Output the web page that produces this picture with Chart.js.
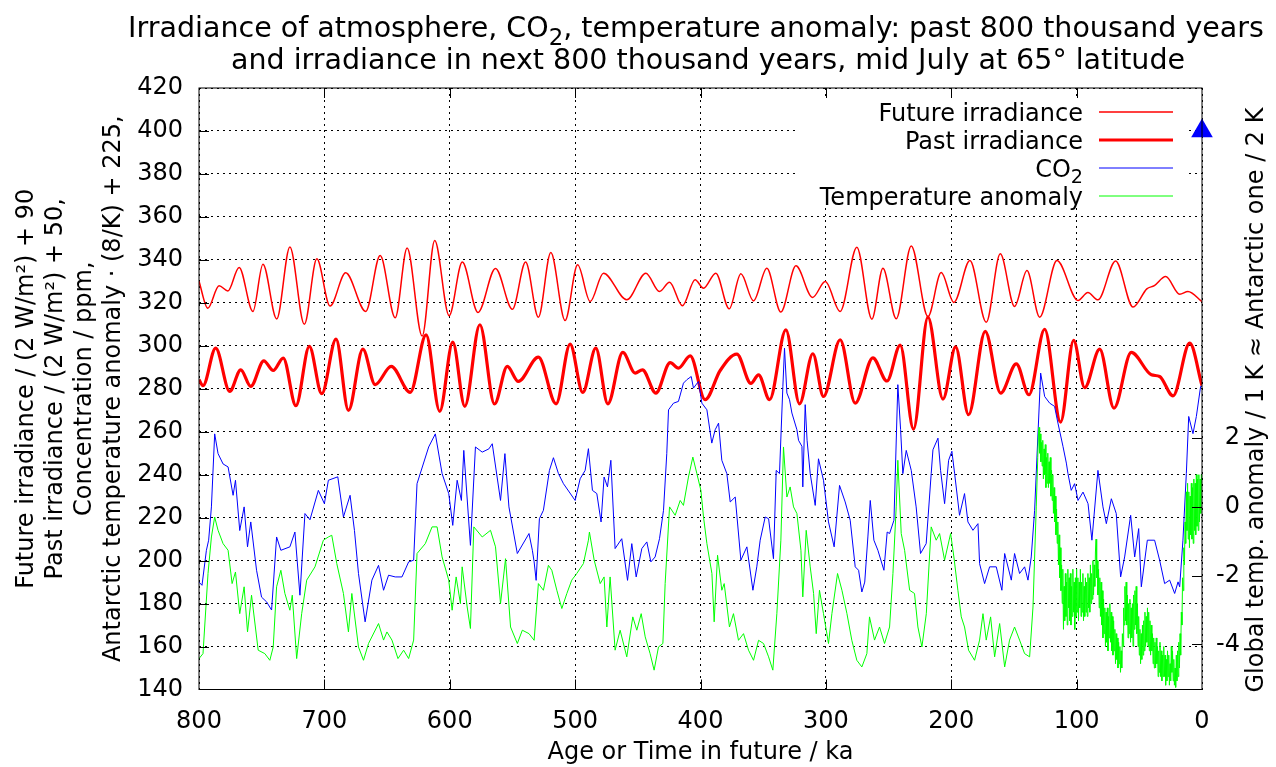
<!DOCTYPE html>
<html>
<head>
<meta charset="utf-8">
<title>Irradiance, CO₂ and temperature anomaly over 800 ka</title>
<script src="https://cdn.jsdelivr.net/npm/chart.js@4/dist/chart.umd.min.js"></script>
<style>
  html, body { margin: 0; padding: 0; background: #fff; }
  #chart { display: block; }
</style>
</head>
<body>
<canvas id="chart" width="1276" height="767"></canvas>
<script>
// x values are ka: age for the past series, time ahead for the future one

// mid July insolation at 65° N, next 800 ka, scaled: W/m² / 2 + 90
const futureAge = [800, 793, 784, 777, 768, 757, 749, 738, 727.5, 716, 706, 695.5, 683, 667, 655.5, 643.5,
  634, 622, 612, 600.5, 590, 577.5, 563.5, 550, 539.5, 529.3, 519.4, 508, 498, 488, 477.4, 458.8,
  443.6, 432.7, 424.7, 414.4, 404.3, 397.6, 387.8, 377.1, 367.8, 357.7, 347.1, 335.9, 323.9, 310.6,
  300.5, 288.6, 275.3, 263.3, 254.5, 243.9, 231.9, 218.6, 208, 197.9, 185.1, 172.1, 160.9, 149.5,
  139.6, 129.5, 115.7, 98.9, 91, 83, 68.9, 55, 44, 38, 29, 17.8, 11.2, 0];
const futureIrr = [330, 317.5, 328, 325.5, 336.5, 316, 338, 312.5, 346, 310, 340.5, 318.5, 334, 316, 342, 313,
  345.5, 304.5, 349, 314, 339, 315.5, 336, 317, 339, 313.3, 343.4, 311.8, 337.7, 320.6, 333.8, 321.4,
  333.8, 325.3, 329.6, 318.6, 330.7, 326.8, 333.8, 317.2, 333.5, 320.9, 336.1, 315.7, 337.2, 322.5,
  329.9, 316, 345.9, 312.4, 336.1, 312.6, 346.5, 313.6, 334.1, 320.2, 339.7, 310.9, 342.8, 318.3,
  335, 313.3, 339.7, 321.1, 324.8, 321.4, 339.5, 318, 326.5, 328, 332.2, 324, 325.3, 320.5];

// same, past 800 ka, scaled: W/m² / 2 + 50
const pastAge = [800, 796.8, 786.7, 775.5, 766.7, 758.7, 748.3, 740.8, 732.8, 722.7, 712, 702.1, 690.7, 680.8,
  669.3, 659.5, 646.7, 631.5, 618.9, 608, 597.6, 588, 576, 564.3, 554.1, 545.3, 529.3, 515.2, 504,
  493.9, 483.5, 473.9, 462, 452.1, 446.3, 435.6, 424.2, 417.6, 408.2, 396.3, 384.3, 371, 359.8,
  353.7, 344.9, 331.9, 321, 310.4, 301.9, 288.6, 276.6, 262.5, 251.3, 240.7, 230.1, 218.6, 206.6,
  196.5, 186.2, 172.9, 160.6, 148.1, 138, 125.5, 112.8, 102.4, 93.6, 81.6, 70.2, 56.4, 40.4, 33.8,
  23.1, 9.8, 0];
const pastIrr = [284.2, 281.4, 298.9, 278.8, 288.8, 281.1, 293, 288.5, 294.3, 272.1, 299.7, 277.7, 303.1, 269.9,
  298.4, 281.9, 290.4, 278.3, 305.1, 269.5, 301.7, 271.8, 309.8, 272.9, 290.4, 283.4, 294.7, 273, 300.8,
  278.3, 298.9, 273, 296.9, 287.3, 288.8, 278, 292.2, 289.6, 295.3, 274.9, 288.5, 296.1, 282.5,
  286.5, 274.9, 307.4, 273, 296.3, 276.4, 302.8, 273.3, 294.4, 283.6, 300.3, 261.2, 313.3, 275.2,
  299.5, 267.9, 306.7, 278, 291.6, 277.2, 307.7, 264.5, 302.5, 280.5, 298.4, 271, 296.9, 286.5, 285.7,
  276.7, 301.2, 281.5];

// CO2, ppm
const co2Age = [800, 797.6, 794.1, 792.3, 790.1, 787.5, 784.8, 780.8, 776.8, 772.8, 770.9, 767.5, 764, 761.3,
  758.7, 754.1, 750.1, 746.1, 742.1, 738.1, 734.7, 727.5, 723.5, 719.5, 715.5, 711.5, 704.8, 700,
  696.8, 689.3, 684.8, 679.5, 676, 672.8, 667.5, 662.1, 656.8, 652.8, 648.8, 643.5, 638.1, 632.8,
  628.8, 626.1, 616.8, 611.5, 606.1, 600.8, 597.6, 594.1, 590.7, 588.8, 583.5, 579.5, 574.1, 568.8,
  566.1, 559.5, 556, 552.8, 546.1, 536.8, 534.1, 532.7, 531.1, 528.5, 525.3, 520.5, 517.3, 513.3,
  509.3, 500, 496, 492, 489.4, 486.2, 482.7, 479.3, 476.9, 474.2, 471.5, 468.1, 462.8, 458.2, 454.8,
  451.3, 446.8, 442.8, 439.6, 436.2, 432.7, 429.5, 426.9, 425.5, 421.5, 417.6, 413.6, 410.9, 407.4,
  405.6, 401.6, 398.9, 394.9, 391, 388.3, 385.6, 383, 379, 376.3, 372.3, 367.8, 363, 358.2, 355.1,
  352.4, 348.4, 345.7, 341.8, 339.6, 337, 334.3, 333, 331.1, 329, 327.1, 323.1, 321.8, 319.1, 318.4,
  316.5, 315, 312.5, 308.5, 305.9, 301.9, 297.9, 293.4, 289.1, 284.6, 280.6, 276.6, 273.9, 271.3,
  269, 266.5, 264.6, 261.7, 258.5, 253.7, 251.1, 249.2, 245.7, 242.6, 240.4, 238.6, 235.9, 231.9,
  228, 224.5, 220, 216, 214.6, 210.6, 208.5, 205.3, 202.1, 199.5, 197.3, 193.4, 189.4, 186.7, 182.7,
  178.7, 177.4, 173.4, 169.4, 164.1, 159.6, 157.4, 152.1, 149.5, 145.5, 141.5, 138.8, 136.2, 133.5,
  128.7, 125.5, 121.5, 117.6, 114.9, 110.9, 108.2, 106.9, 104.3, 101.6, 98.9, 94.9, 90.9, 87.8, 83,
  79, 76.3, 72.3, 68.4, 64.9, 61.7, 56.9, 53.7, 50.5, 48.4, 43.6, 37.8, 33.8, 29.8, 25.8, 21.8,
  19.1, 17.8, 15.2, 12.5, 10.6, 7.2, 4.5, 1.1, 0];
const co2 = [190, 188.5, 204.8, 209.5, 225, 259, 249.8, 245, 243.6, 230.4, 237.4, 214, 225, 206.4,
  218, 195.5, 183, 180.8, 177, 211, 204.8, 206.4, 213.3, 183.9, 221.9, 219, 232.7, 226.5,
  237.4, 239, 220.3, 230.4, 214, 194, 171.5, 190.9, 197.8, 186.2, 193.2, 192.4, 192.4, 199.4,
  200.2, 235.8, 252.9, 259, 240.5, 231.2, 216.4, 237.4, 228, 251.3, 207.1, 252.9, 250.5, 252,
  254.4, 228, 249.8, 225, 203.3, 212.6, 204.8, 199.4, 190.8, 219.5, 223.4, 242, 247.9, 240.5,
  235.8, 228, 238.1, 242, 252.1, 232.7, 231.2, 218, 238.9, 234.3, 246.7, 205.6, 210.2, 190.8, 207.9,
  192.4, 205.6, 208.7, 199.4, 201.7, 210.2, 223.4, 249.8, 270.2, 273.3, 274.1, 282.6, 284.2, 285.7,
  280.3, 283.4, 273.3, 270.2, 254.7, 260.9, 264, 246.7, 240.5, 227.3, 229.6, 200.2, 206.4, 186.2, 197.1,
  209.5, 220.3, 219.5, 200.9, 242, 240.5, 281, 298.9, 278, 274.9, 268.7, 260.9, 256, 253.2, 234.3,
  272.6, 256, 240.5, 225.7, 247.4, 237.4, 218, 206.4, 235, 227.3, 218.8, 197.1, 195.5, 185.4,
  190, 211, 228, 209.5, 204.8, 195.5, 213.3, 212.6, 218.8, 281.9, 261, 240.5, 251.3, 242,
  225, 203.3, 207.9, 240.5, 251.6, 257, 242, 226.5, 246.7, 250.9, 240.5, 221.1, 231.2, 218, 214.1,
  217.2, 198.6, 189.3, 197.1, 197.1, 186.2, 203.3, 190.9, 203.3, 194, 197.1, 190.9, 201.7, 223.4,
  287.3, 276.4, 273.3, 271.8, 264, 253.2, 245.4, 240.5, 232.7, 235.8, 228, 231.9, 226.5, 209.5, 242,
  225, 217.2, 228.8, 221.9, 192.4, 201.7, 221.1, 201.7, 214.9, 187.8, 209.5, 209.5, 200.2, 189.3, 190.9, 184.7,
  190.1, 187.8, 209.5, 240.5, 267.1, 259.1, 267.1, 281.1, 281];

// Antarctic temperature anomaly, scaled: K * 8 + 225
const tempAge = [800, 796.8, 792.8, 790.1, 787.5, 784.8, 780.8, 776.8, 773.6, 770.9, 767.5, 764, 761.3, 758.1,
  752.8, 747.5, 743.5, 740.8, 738.1, 734.7, 731.5, 727.5, 725.6, 722.1, 718.1, 714.1, 707.5, 700.8,
  696.8, 694.1, 690.1, 684.8, 680.8, 678.1, 672.8, 668.8, 664.8, 656.8, 652.8, 650.1, 646.1, 641.3,
  636.8, 632.8, 628.8, 626.1, 619.5, 614.1, 610.1, 606.1, 600.8, 598.1, 594.9, 591.5, 590.1, 586.1,
  583.5, 580.8, 574.1, 567.5, 563.5, 559.5, 555.5, 551.5, 546.1, 542.1, 536.8, 532.7, 529.3, 525.3,
  521.3, 518.6, 514.6, 510.6, 506.6, 502.7, 498.7, 493.4, 489.4, 488.6, 484.8, 480, 476.9, 474.7,
  472.1, 468.1, 464.1, 458.8, 454, 450.8, 447.3, 444.1, 440.2, 437, 433.5, 430, 428.2, 424.7, 420.2,
  416.2, 413.6, 409.6, 406.1, 402.9, 399.7, 397.6, 394.9, 390.9, 389.1, 386.4, 383, 381.1, 376.9,
  373.7, 369.7, 365.7, 361.7, 357.7, 353.7, 349.7, 345.7, 342.3, 339.1, 335.9, 333.8, 331.1, 328.5,
  325.8, 323.1, 319.9, 318.4, 315.7, 312.5, 309.8, 307.7, 305.1, 301.9, 297.9, 295.2, 290.7, 287.2,
  283.2, 279.3, 275.3, 271.3, 267.3, 265.2, 261.2, 257.2, 253.2, 249.2, 246.5, 243.9, 242.6, 239.9,
  237.2, 233.2, 229.3, 226.6, 223.4, 219.9, 216, 212, 209.3, 205.3, 200.5, 197.9, 194.7, 192, 189.4,
  186.2, 181.4, 177.4, 174.7, 172.1, 168.6, 165.4, 161.4, 157.4, 153.5, 149.5, 145.5, 141.5, 137.5,
  134.8, 132.2,
  131, 130.5, 130, 129.5, 129, 128.5, 128, 127.5, 127, 126.5,
  126, 125.5, 125, 124.5, 124, 123.5, 123, 122.5, 122, 121.5,
  121, 120.5, 120, 119.5, 119, 118.5, 118, 117.5, 117, 116.5,
  116, 115.5, 115, 114.5, 114, 113.5, 113, 112.5, 112, 111.5,
  111, 110.5, 110, 109.5, 109, 108.5, 108, 107.5, 107, 106.5,
  106, 105.5, 105, 104.5, 104, 103.5, 103, 102.5, 102, 101.5,
  101, 100.5, 100, 99.5, 99, 98.5, 98, 97.5, 97, 96.5,
  96, 95.5, 95, 94.5, 94, 93.5, 93, 92.5, 92, 91.5,
  91, 90.5, 90, 89.5, 89, 88.5, 88, 87.5, 87, 86.5,
  86, 85.5, 85, 84.5, 84, 83.5, 83, 82.5, 82, 81.5,
  81, 80.5, 80, 79.5, 79, 78.5, 78, 77.5, 77, 76.5,
  76, 75.5, 75, 74.5, 74, 73.5, 73, 72.5, 72, 71.5,
  71, 70.5, 70, 69.5, 69, 68.5, 68, 67.5, 67, 66.5,
  66, 65.5, 65, 64.5, 64, 63.5, 63, 62.5, 62, 61.5,
  61, 60.5, 60, 59.5, 59, 58.5, 58, 57.5, 57, 56.5,
  56, 55.5, 55, 54.5, 54, 53.5, 53, 52.5, 52, 51.5,
  51, 50.5, 50, 49.5, 49, 48.5, 48, 47.5, 47, 46.5,
  46, 45.5, 45, 44.5, 44, 43.5, 43, 42.5, 42, 41.5,
  41, 40.5, 40, 39.5, 39, 38.5, 38, 37.5, 37, 36.5,
  36, 35.5, 35, 34.5, 34, 33.5, 33, 32.5, 32, 31.5,
  31, 30.5, 30, 29.5, 29, 28.5, 28, 27.5, 27, 26.5,
  26, 25.5, 25, 24.5, 24, 23.5, 23, 22.5, 22, 21.5,
  21, 20.5, 20, 19.5, 19, 18.5, 18, 17.5, 17, 16.5,
  16, 15.5, 15, 14.5, 14, 13.5, 13, 12.5, 12, 11.5,
  11, 10.5, 10, 9.5, 9, 8.5, 8, 7.5, 7, 6.5,
  6, 5.5, 5, 4.5, 4, 3.5, 3, 2.5, 2, 1.5,
  1, 0.5, 0];
const temp = [154.4, 156.7, 194, 211, 220.3, 214.1, 207.9, 204.8, 189.3, 194.7, 175.3, 187.8, 166.8, 183.9,
  158.3, 156.7, 153.6, 159.8, 187.8, 195.5, 184.7, 176.9, 183.9, 154.4, 175.3, 190.9, 197.1, 209.5,
  211, 211.8, 198.6, 184.7, 166.8, 184.7, 159.8, 153.6, 161.4, 170.7, 163, 166.8, 163, 154.4,
  158.3, 154.4, 163, 203.3, 207.9, 215.7, 215.7, 201.7, 190.9, 176.9, 192.4, 180, 197.1, 178.4,
  168.4, 215.7, 211, 214.1, 206.4, 180, 200.9, 169.1, 161.4, 167.6, 166, 162.9, 189.3, 186.2,
  197.8, 195.5, 186.2, 177.7, 184.7, 190.9, 194, 198.6, 209.5, 213.3, 200.2, 189.3, 192.4, 169.1,
  192.4, 158.3, 167.6, 155.2, 173.8, 167.6, 175.3, 164.5, 156.7, 149, 159.8, 161.4, 189.3, 225, 221.1,
  228, 225.7, 238.9, 248.2, 240.5, 232.7, 220.3, 207.9, 194, 171.5, 202.5, 186.2, 189.3, 169.1,
  175.3, 162.9, 166, 158.3, 153.6, 162.9, 161.4, 155.2, 149, 175.3, 209.5, 252.9, 229.6, 234.3,
  225, 221.9, 204.8, 183.1, 214.1, 197.1, 184.7, 166, 186.2, 175.3, 161.4, 175.3, 194, 186.2,
  175.3, 162.9, 153.6, 150.5, 156.7, 173.8, 163, 169.1, 161.4, 169.1, 194, 225, 246.7, 212.6,
  204.8, 186.2, 184.7, 169.1, 159.8, 175.3, 215.7, 209.5, 212.6, 200.2, 212.6, 201.7, 186.2, 173.8, 169.1,
  158.3, 153.6, 163, 175.3, 163, 173.8, 155.2, 170.7, 150.5, 163, 169.1, 163, 156.7, 155.2,
  178.4, 225,
  248, 258, 262, 250, 259, 246, 255, 244, 256, 238,
  252, 240, 254, 234, 248, 236, 250, 234, 246, 236,
  248, 230, 242, 228, 240, 222, 234, 218, 230, 212,
  224, 208, 218, 198, 212, 192, 206, 186, 198, 180,
  196, 168, 188, 172, 194, 174, 190, 170, 196, 178,
  192, 172, 194, 170, 188, 174, 196, 176, 190, 168,
  192, 174, 196, 176, 192, 172, 190, 178, 196, 174,
  190, 176, 194, 172, 188, 174, 192, 176, 190, 174,
  194, 178, 192, 176, 198, 180, 194, 182, 200, 184,
  198, 188, 204, 210, 192, 200, 184, 196, 178, 192,
  174, 190, 170, 186, 164, 182, 166, 178, 160, 176,
  162, 178, 158, 174, 164, 180, 162, 176, 158, 174,
  156, 172, 158, 168, 152, 166, 154, 164, 150, 162,
  152, 160, 148, 158, 150, 166, 160, 178, 170, 188,
  172, 190, 170, 184, 164, 180, 166, 182, 162, 178,
  164, 180, 160, 184, 168, 186, 170, 188, 166, 180,
  160, 174, 156, 168, 152, 166, 154, 170, 156, 172,
  158, 176, 160, 174, 162, 178, 160, 176, 158, 172,
  156, 170, 158, 166, 152, 164, 150, 162, 150, 164,
  152, 160, 146, 158, 148, 162, 146, 158, 144, 156,
  146, 160, 146, 156, 142, 154, 144, 158, 146, 156,
  142, 152, 144, 160, 148, 158, 144, 154, 142, 150,
  141, 156, 144, 158, 146, 162, 150, 166, 156, 176,
  170, 192, 186, 206, 198, 218, 208, 232, 214, 236,
  210, 232, 206, 230, 212, 236, 210, 234, 208, 238,
  214, 236, 212, 240, 216, 238, 214, 240, 218, 238,
  222, 240, 236];

// present day CO2 marker
const presentAge = [0];
const presentCO2 = [400];

// right axis: global anomaly in K, 1 K global = 2 K Antarctic = 16 left units
const antarcticZero = 225;
const unitsPerGlobalK = 16;
const globalTempTicks = [-4, -2, 0, 2];

const leftMin = 140;
const leftMax = 420;

const titleLines = [
  'Irradiance of atmosphere, CO₂, temperature anomaly: past 800 thousand years',
  'and irradiance in next 800 thousand years, mid July at 65° latitude'
];
const xTitle = 'Age or Time in future / ka';
const yTitle = [
  'Future irradiance / (2 W/m²) + 90',
  'Past irradiance / (2 W/m²) + 50,',
  'Concentration / ppm,',
  'Antarctic temperature anomaly · (8/K) + 225,'
];
const y2Title = 'Global temp. anomaly / 1 K ≈ Antarctic one / 2 K';

const FONT = 'DejaVu Sans';
Chart.defaults.font.family = FONT;
Chart.defaults.font.size = 24;
Chart.defaults.color = '#000';

const toPoints = (ages, values) => ages.map((x, i) => ({ x, y: values[i] }));

// text with "₂" drawn as a real lowered, smaller 2 (gnuplot style)
const drawRich = (ctx, text, x, y, size, align) => {
    const parts = [];
    text.split('₂').forEach((s, i, arr) => {
        parts.push({ t: s, sub: false });
        if (i < arr.length - 1) parts.push({ t: '2', sub: true });
    });
    const setFont = p => { ctx.font = `${p.sub ? size * 0.8 : size}px "${FONT}"`; };
    const widths = parts.map(p => { setFont(p); return ctx.measureText(p.t).width; });
    const total = widths.reduce((a, b) => a + b, 0);
    let cx = align === 'center' ? x - total / 2 : align === 'right' ? x - total : x;
    ctx.textAlign = 'left';
    parts.forEach((p, i) => {
        setFont(p);
        ctx.fillText(p.t, cx, p.sub ? y + size * 0.28 : y);
        cx += widths[i];
    });
};

// title, legend box and gnuplot-like frame with inward ticks
const framePlugin = {
    id: 'frame',
    beforeDatasetsDraw(chart) {
        const ctx = chart.ctx;
        ctx.save();
        ctx.fillStyle = '#fff';
        ctx.fillRect(795, 97, 390, 111);
        ctx.restore();
    },
    afterDraw(chart) {
        const { ctx, chartArea: a, scales } = chart;
        ctx.save();
        ctx.fillStyle = '#000';
        ctx.textBaseline = 'alphabetic';

        drawRich(ctx, titleLines[0], 696, 37, 28.5, 'center');
        drawRich(ctx, titleLines[1], 708, 68.5, 28.5, 'center');

        chart.data.datasets.filter(ds => ds.inLegend).forEach((ds, i) => {
            const y = 112 + i * 28;
            ctx.fillStyle = '#000';
            drawRich(ctx, ds.label, 1083, y + 8.5, 24, 'right');
            ctx.strokeStyle = ds.borderColor;
            ctx.lineWidth = ds.borderWidth;
            ctx.beginPath();
            ctx.moveTo(1099, y);
            ctx.lineTo(1173, y);
            ctx.stroke();
        });

        ctx.strokeStyle = '#000';
        ctx.lineWidth = 1;
        ctx.strokeRect(a.left, a.top, a.right - a.left, a.bottom - a.top);

        const tick = 10;
        ctx.beginPath();
        scales.x.ticks.forEach(t => {
            const px = Math.round(scales.x.getPixelForValue(t.value)) + 0.5;
            if (px <= a.left + 1 || px >= a.right - 1) return;
            ctx.moveTo(px, a.bottom); ctx.lineTo(px, a.bottom - tick);
            ctx.moveTo(px, a.top); ctx.lineTo(px, a.top + tick);
        });
        scales.y.ticks.forEach(t => {
            const py = Math.round(scales.y.getPixelForValue(t.value)) + 0.5;
            if (py <= a.top + 1 || py >= a.bottom - 1) return;
            ctx.moveTo(a.left, py); ctx.lineTo(a.left + tick, py);
        });
        scales.y2.ticks.forEach(t => {
            const py = Math.round(scales.y2.getPixelForValue(t.value)) + 0.5;
            ctx.moveTo(a.right, py); ctx.lineTo(a.right - tick, py);
        });
        ctx.stroke();

        ctx.translate(1257, 400);
        ctx.rotate(-Math.PI / 2);
        ctx.font = `24px "${FONT}"`;
        ctx.textAlign = 'center';
        ctx.textBaseline = 'middle';
        ctx.fillStyle = '#000';
        ctx.fillText(y2Title, 0, 0);
        ctx.restore();
    }
};

const gridStyle = { color: '#000', lineWidth: 1, drawTicks: false };
const gridBorder = { display: false, dash: [2, 4] };

new Chart(document.getElementById('chart'), {
    type: 'line',
    data: {
        datasets: [
            {
                label: 'Future irradiance',
                data: toPoints(futureAge, futureIrr),
                borderColor: '#ff0000',
                borderWidth: 1.5,
                cubicInterpolationMode: 'monotone',
                order: 3,
                inLegend: true
            },
            {
                label: 'Past irradiance',
                data: toPoints(pastAge, pastIrr),
                borderColor: '#ff0000',
                borderWidth: 3.2,
                cubicInterpolationMode: 'monotone',
                order: 2,
                inLegend: true
            },
            {
                label: 'CO₂',
                data: toPoints(co2Age, co2),
                borderColor: '#0000ff',
                borderWidth: 1,
                order: 1,
                inLegend: true
            },
            {
                label: 'Temperature anomaly',
                data: toPoints(tempAge, temp),
                borderColor: '#00ff00',
                borderWidth: 1,
                order: 0,
                inLegend: true
            },
            {
                label: 'CO₂ today',
                data: toPoints(presentAge, presentCO2),
                showLine: false,
                pointStyle: 'triangle',
                pointRadius: 12.5,
                backgroundColor: '#0000ff',
                borderColor: '#0000ff',
                borderWidth: 0,
                clip: false,
                order: -1,
                inLegend: false
            }
        ]
    },
    options: {
        responsive: false,
        devicePixelRatio: 1,
        animation: false,
        events: [],
        layout: { padding: { top: 88, left: 0, right: 36, bottom: 0 } },
        elements: { point: { radius: 0 }, line: { tension: 0 } },
        plugins: {
            legend: { display: false },
            tooltip: { enabled: false },
            title: { display: false }
        },
        scales: {
            x: {
                type: 'linear',
                reverse: true,
                min: 0,
                max: 800,
                ticks: { stepSize: 100, padding: 18 },
                grid: gridStyle,
                border: gridBorder,
                title: { display: true, text: xTitle, padding: { top: 0, bottom: 0 } },
                afterFit(scale) { scale.height = 77.5; }
            },
            y: {
                position: 'left',
                min: leftMin,
                max: leftMax,
                ticks: { stepSize: 20, padding: 16 },
                grid: gridStyle,
                border: gridBorder,
                title: {
                    display: true,
                    text: yTitle,
                    padding: { top: 12.6, bottom: 0 },
                    font: { lineHeight: 1.2 }
                },
                afterFit(scale) { scale.width = 199; }
            },
            y2: {
                position: 'right',
                min: (leftMin - antarcticZero) / unitsPerGlobalK,
                max: (leftMax - antarcticZero) / unitsPerGlobalK,
                afterBuildTicks(scale) {
                    scale.ticks = globalTempTicks.map(value => ({ value }));
                },
                ticks: { crossAlign: 'far' },
                grid: { display: false, drawTicks: false },
                border: { display: false },
                afterFit(scale) { scale.width = 38; }
            }
        }
    },
    plugins: [framePlugin]
});
</script>
</body>
</html>
